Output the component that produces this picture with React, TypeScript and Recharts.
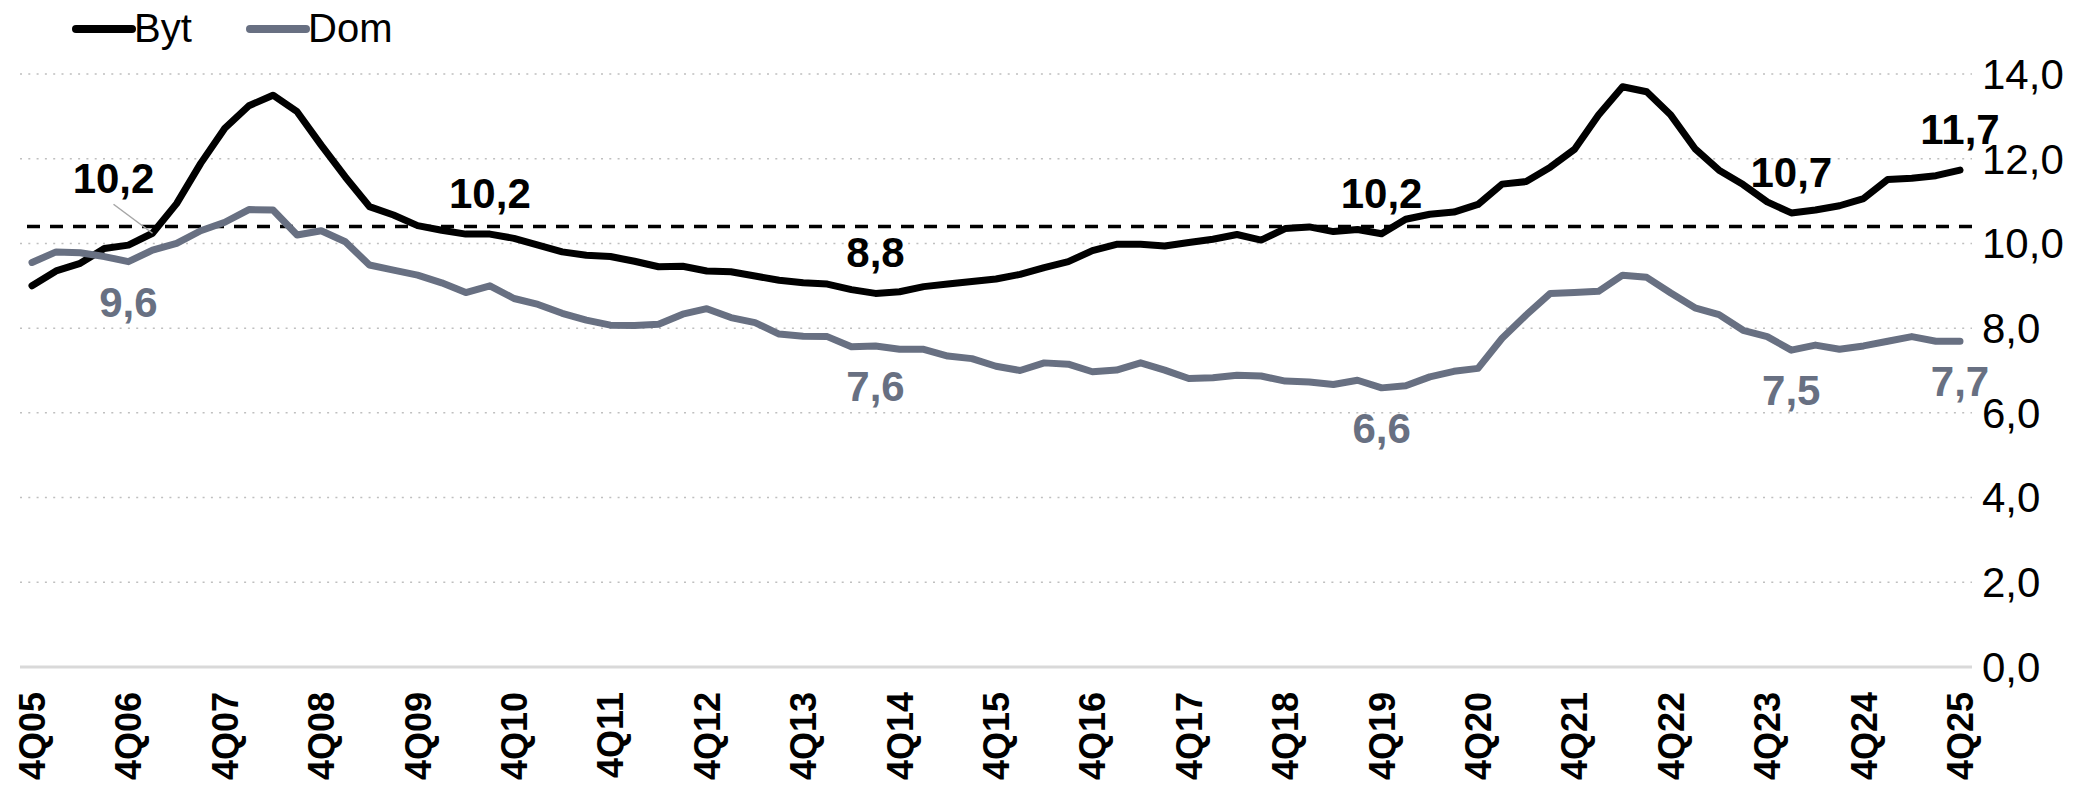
import { LineChart, Line, XAxis, YAxis, CartesianGrid, ReferenceLine, LabelList } from "recharts";

// quarterly values 4Q05 .. 4Q25
const bytValues = [
  9.0, 9.35, 9.53, 9.88, 9.96, 10.24, 10.94, 11.89, 12.72, 13.25,
  13.5, 13.11, 12.32, 11.57, 10.87, 10.67, 10.42, 10.31, 10.22, 10.22,
  10.12, 9.96, 9.8, 9.72, 9.69, 9.58, 9.45, 9.46, 9.35, 9.33,
  9.23, 9.13, 9.07, 9.04, 8.91, 8.82, 8.86, 8.98, 9.04, 9.1,
  9.16, 9.27, 9.43, 9.57, 9.83, 9.98, 9.98, 9.94, 10.02, 10.1,
  10.21, 10.08, 10.35, 10.39, 10.28, 10.33, 10.23, 10.57, 10.69, 10.74,
  10.92, 11.4, 11.46, 11.8, 12.22, 13.03, 13.7, 13.58, 13.03, 12.24,
  11.73, 11.39, 10.98, 10.72, 10.79, 10.89, 11.06, 11.51, 11.54, 11.6, 11.73,
];

const domValues = [
  9.55, 9.8, 9.78, 9.69, 9.57, 9.84, 10.0, 10.3, 10.5, 10.8,
  10.79, 10.2, 10.3, 10.04, 9.49, 9.37, 9.25, 9.07, 8.84, 9.0,
  8.7, 8.56, 8.35, 8.19, 8.07, 8.06, 8.09, 8.33, 8.46, 8.25,
  8.13, 7.86, 7.81, 7.8, 7.56, 7.58, 7.5, 7.5, 7.34, 7.28,
  7.1, 7.0, 7.18, 7.15, 6.97, 7.01, 7.18, 7.01, 6.81, 6.83,
  6.89, 6.87, 6.75, 6.73, 6.67, 6.77, 6.59, 6.64, 6.85, 6.98,
  7.05, 7.76, 8.31, 8.82, 8.84, 8.87, 9.25, 9.2, 8.83, 8.48,
  8.32, 7.95, 7.8, 7.48, 7.6, 7.5, 7.58, 7.69, 7.8, 7.69, 7.69,
];

const yTicks = [0, 2, 4, 6, 8, 10, 12, 14];
const refLevel = 10.4;

// which points carry a value label
const bytLabelIdx = [5, 19, 35, 56, 73, 80];
const domLabelIdx = [4, 35, 56, 73, 80];

const FONT = "'Liberation Sans', Arial, sans-serif";
const NARROW = "'Liberation Sans Narrow', 'Arial Narrow', 'Liberation Sans', sans-serif";
const BYT = "#000000";
const DOM = "#687082";

const quarters: string[] = [];
for (let i = 0; i < bytValues.length; i++) {
  const q = ((3 + i) % 4) + 1;
  const yr = 2005 + Math.floor((3 + i) / 4);
  quarters.push(`${q}Q${String(yr % 100).padStart(2, "0")}`);
}

const data = quarters.map((q, i) => ({ q, byt: bytValues[i], dom: domValues[i] }));

const fmt = (v: number) => v.toFixed(1).replace(".", ",");

const XTick = (props: any) => {
  const { x, y, payload } = props;
  return (
    <text
      transform={`translate(${x},${y + 17}) rotate(-90)`}
      textAnchor="end"
      dy="0.36em"
      fontSize={36}
      fontWeight="bold"
      fontFamily={FONT}
      fill="#000"
    >
      {payload.value}
    </text>
  );
};

const makeLabel = (idxs: number[], color: string, below: boolean) => (props: any) => {
  const { x, y, index, value } = props;
  if (!idxs.includes(index)) return null;
  const common = {
    textAnchor: "middle" as const,
    fontSize: 42,
    fontWeight: "bold" as const,
    fontFamily: NARROW,
    fill: color,
  };
  if (!below && index === idxs[0]) {
    return (
      <g>
        <line x1={x - 39} y1={y - 29} x2={x} y2={y} stroke="#a6a6a6" strokeWidth={1.5} />
        <text x={x - 39} y={y - 40} {...common}>
          {fmt(value)}
        </text>
      </g>
    );
  }
  return (
    <text x={x} y={below ? y + 55 : y - 26} {...common}>
      {fmt(value)}
    </text>
  );
};

function LegendBox() {
  const items = [
    { name: "Byt", color: BYT, x: 76 },
    { name: "Dom", color: DOM, x: 250 },
  ];
  return (
    <svg width={420} height={60} style={{ position: "absolute", left: 0, top: 0 }}>
      {items.map((it) => (
        <g key={it.name}>
          <line x1={it.x} y1={29} x2={it.x + 56} y2={29} stroke={it.color} strokeWidth={8} strokeLinecap="round" />
          <text x={it.x + 58} y={42} fontSize={40} fontFamily={NARROW} fill="#000">
            {it.name}
          </text>
        </g>
      ))}
    </svg>
  );
}

export default function App() {
  return (
    <div style={{ position: "relative", width: 2085, height: 785, background: "#fff" }}>
      <style>{`body{margin:0}`}</style>
      <LineChart width={2085} height={785} data={data} margin={{ top: 74, right: 0, left: 20, bottom: 0 }}>
        <CartesianGrid vertical={false} stroke="#bfbfbf" strokeWidth={1.5} strokeDasharray="2 6.3" />
        <XAxis
          dataKey="q"
          interval={3}
          height={118}
          padding={{ left: 12, right: 12 }}
          tickLine={false}
          axisLine={{ stroke: "#d9d9d9", strokeWidth: 3 }}
          tick={<XTick />}
        />
        <YAxis
          orientation="right"
          width={113}
          domain={[0, 14]}
          ticks={yTicks}
          tickFormatter={fmt}
          axisLine={false}
          tickLine={false}
          tickMargin={4}
          tick={{ fill: "#000", fontSize: 42, fontFamily: NARROW }}
        />
        <ReferenceLine y={refLevel} stroke="#000" strokeWidth={3.5} strokeDasharray="13 10" />
        <Line
          dataKey="byt"
          stroke={BYT}
          strokeWidth={7}
          dot={false}
          activeDot={false}
          strokeLinejoin="round"
          strokeLinecap="round"
          isAnimationActive={false}
        >
          <LabelList dataKey="byt" content={makeLabel(bytLabelIdx, BYT, false)} />
        </Line>
        <Line
          dataKey="dom"
          stroke={DOM}
          strokeWidth={7}
          dot={false}
          activeDot={false}
          strokeLinejoin="round"
          strokeLinecap="round"
          isAnimationActive={false}
        >
          <LabelList dataKey="dom" content={makeLabel(domLabelIdx, DOM, true)} />
        </Line>
      </LineChart>
      <LegendBox />
    </div>
  );
}
